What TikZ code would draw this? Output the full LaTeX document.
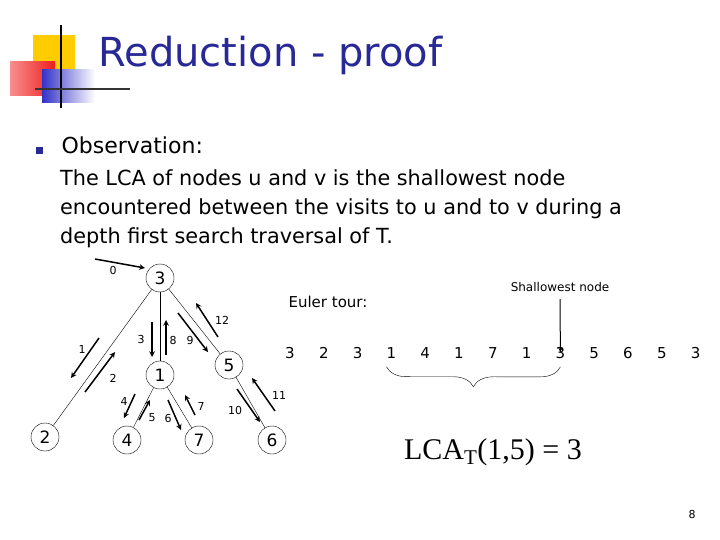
\documentclass[tikz,border=0pt]{standalone}
\usepackage{fontspec}
\setmainfont{DejaVu Sans}
\newfontfamily\timesfont{Liberation Serif}
\usetikzlibrary{decorations.pathreplacing}
\definecolor{titleblue}{RGB}{40, 40, 150}
\definecolor{logoyellow}{RGB}{255, 204, 0}
\definecolor{logored}{RGB}{240, 30, 30}
\definecolor{logoblue}{RGB}{50, 50, 200}

\begin{document}
\begin{tikzpicture}[x=1pt, y=-1pt,
    vertex/.style={circle, draw, thin, minimum size=28pt, inner sep=0pt, font=\fontsize{17}{17}\selectfont},
    tour/.style={->, line width=1.5pt, >=stealth},
    stepnum/.style={font=\fontsize{11}{11}\selectfont, inner sep=0pt},
    seq/.style={font=\fontsize{15}{15}\selectfont, inner sep=0pt}
]
    \useasboundingbox (0,0) rectangle (720,540);
    % logo
    \fill[logoyellow] (33,35) rectangle (75,77);
    \shade[left color=logored!50, right color=logored] (10,62) rectangle (55,96);
    \shade[left color=logoblue, right color=white] (42,70) rectangle (95,103);
    \draw[line width=1.5pt] (61,25) -- (61,108);
    \draw[line width=1.5pt, black!80] (35,89) -- (130,89);
    \node[anchor=west, text=titleblue, font=\fontsize{40}{40}\selectfont] (title) at (95,55) {Reduction - proof};
    % text
    \fill[titleblue] (36,147) rectangle (43,154);
    \node[anchor=west, font=\fontsize{22}{22}\selectfont] (obs) at (58,145) {Observation:};
    \node[anchor=north west, align=left, font=\fontsize{20.8}{29}\selectfont, inner sep=0pt] (body) at (60,169)
        {The LCA of nodes u and v is the shallowest node\\encountered between the visits to u and to v during a\\depth first search traversal of T.};
    % tree
    \node[vertex] (n3) at (160,278) {3};
    \node[vertex] (n1) at (160,375) {1};
    \node[vertex] (n5) at (229,365) {5};
    \node[vertex] (n2) at (45,437) {2};
    \node[vertex] (n4) at (127,440) {4};
    \node[vertex] (n7) at (199,440) {7};
    \node[vertex] (n6) at (272,440) {6};
    \draw (n3) -- (n2);
    \draw (n3) -- (n1);
    \draw (n3) -- (n5);
    \draw (n1) -- (n4);
    \draw (n1) -- (n7);
    \draw (n5) -- (n6);
    % traversal
    \draw[tour] (95,259) -- (145,268);
    \draw[tour] (99,338) -- (71,378);
    \draw[tour] (85,392) -- (115,352);
    \draw[tour] (152,322) -- (152,357);
    \draw[tour] (135,394) -- (124,418);
    \draw[tour] (139,420) -- (150,400);
    \draw[tour] (168,400) -- (181,430);
    \draw[tour] (195,415) -- (185,395);
    \draw[tour] (166,355) -- (166,320);
    \draw[tour] (178,313) -- (208,352);
    \draw[tour] (237,389) -- (260,422);
    \draw[tour] (275,411) -- (252,378);
    \draw[tour] (218,337) -- (196,303);
    \node[stepnum] (s0) at (113,270) {0};
    \node[stepnum] (s1) at (82,349) {1};
    \node[stepnum] (s2) at (113,378) {2};
    \node[stepnum] (s3) at (141,339) {3};
    \node[stepnum] (s4) at (124,401) {4};
    \node[stepnum] (s5) at (152,418) {5};
    \node[stepnum] (s6) at (168,418) {6};
    \node[stepnum] (s7) at (201,406) {7};
    \node[stepnum] (s8) at (173,340) {8};
    \node[stepnum] (s9) at (190,340) {9};
    \node[stepnum] (s10) at (235,410) {10};
    \node[stepnum] (s11) at (279,395) {11};
    \node[stepnum] (s12) at (222,320) {12};
    % Euler tour
    \node[font=\fontsize{15}{15}\selectfont] (euler) at (328,302) {Euler tour:};
    \foreach \v [count=\i] in {3,2,3,1,4,1,7,1,3,5,6,5,3}
        \node[seq] (e\i) at ({290+33.8*(\i-1)},353) {\v};
    \node[font=\fontsize{12}{12}\selectfont] (shallow) at (560,287) {Shallowest node};
    \draw[tour, line width=1pt] (shallow.south) ++(0,4) coordinate (sh) (sh) -- ([yshift=-5pt]e9.north);
    \draw[decorate, decoration={brace, amplitude=20pt}] (e9.south) ++(0,8) coordinate (br1) (e4.south) ++(-5,8) coordinate (br2) (br1) -- (br2);
    \node[font=\timesfont\fontsize{30}{30}\selectfont] (lca) at (493,452) {LCA\textsubscript{T}(1,5) = 3};
    \node[font=\fontsize{11}{11}\selectfont] (page) at (692,514) {8};
\end{tikzpicture}
\end{document}
